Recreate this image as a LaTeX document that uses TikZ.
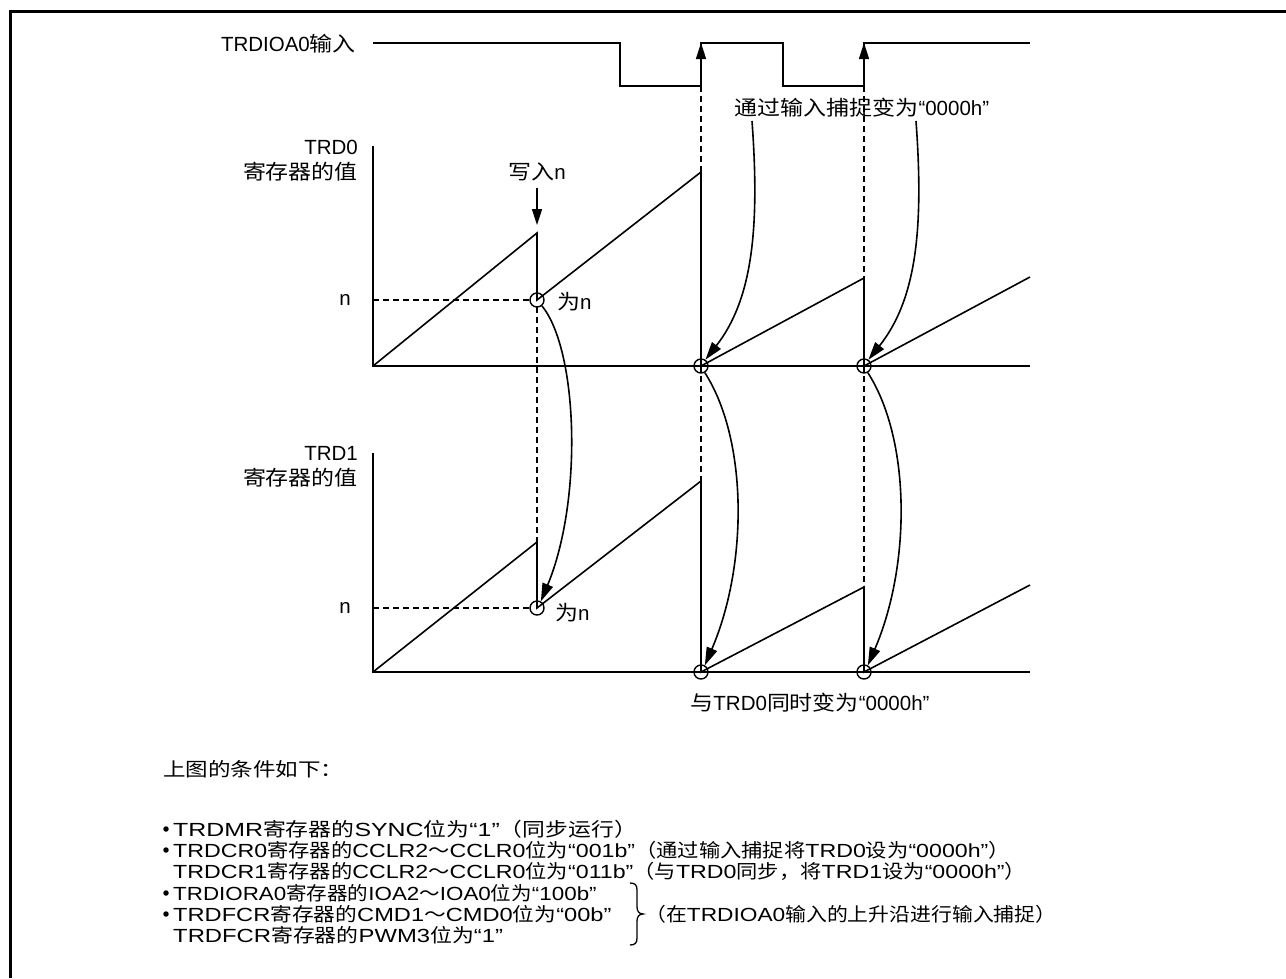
\documentclass[tikz,border=0pt]{standalone}
\usepackage{fontspec}
\usepackage{graphicx}
\setmainfont{Liberation Sans}
\newfontfamily\cjkw[FakeStretch=1.12]{Noto Sans CJK SC}
\newfontfamily\latw[FakeStretch=1.22]{Liberation Sans}
\newcommand\zA[1]{{\cjkw #1}}
\newcommand\sx[2]{\scalebox{#1}[1]{#2}}
\usetikzlibrary{arrows.meta}
\tikzset{
  ln/.style={line width=1.6pt, black},
  dsh/.style={line width=1.4pt, dash pattern=on 6pt off 4pt},
  circ/.style={circle, draw, line width=1.4pt, minimum size=14pt, inner sep=0pt},
  lbl/.style={font=\fontsize{20.5}{25}\selectfont, inner sep=0pt},
  bt/.style={font=\fontsize{19}{21}\selectfont\latw, inner sep=0pt, anchor=west},
  bul/.style={circle, fill, minimum size=5.5pt, inner sep=0pt},
  sarrow/.style={ln, -{Triangle[length=16pt,width=10pt]}},
  carrow/.style={ln, -{Triangle[length=18pt,width=11pt]}},
}
\begin{document}
\begin{tikzpicture}[x=1pt,y=-1pt]
\useasboundingbox (0,0) rectangle (1286,978);
% frame
\draw[line width=3pt] (10.5,978) -- (10.5,11.5) -- (1286,11.5);

% ---- TRDIOA0 input ----
\node[lbl, anchor=east] (tin) at (356,44) {TRDIOA0\zA{输入}};
\draw[ln] (373,43) -- (620,43) -- (620,86) -- (701,86) -- (701,43) -- (783,43) -- (783,86) -- (864,86) -- (864,43) -- (1030,43);
\coordinate (r1b) at (701,86); \coordinate (r1t) at (701,43);
\coordinate (r2b) at (864,86); \coordinate (r2t) at (864,43);
\draw[sarrow] (r1b) -- (r1t);
\draw[sarrow] (r2b) -- (r2t);

% dashed verticals
\draw[dsh] (701,86) -- (701,672);
\draw[dsh] (864,86) -- (864,672);
\draw[dsh] (537,307) -- (537,542);

\node[lbl] (cap) at (862,108) {\zA{通过输入捕捉变为}“0000h”};

% ---- TRD0 ----
\node[lbl, align=right, anchor=east] (l0) at (358,161) {TRD0\\\zA{寄存器的值}};
\draw[ln] (373,146) -- (373,366) -- (1030,366);
\node[lbl] (wn) at (537,172) {\zA{写入}n};
\coordinate (wa) at (537,188); \coordinate (wb) at (537,225);
\draw[sarrow] (wa) -- (wb);
\node[circ] (c0a) at (537,300) {};
\node[circ] (c0b) at (701,366) {};
\node[circ] (c0c) at (864,366) {};
\draw[ln] (373,366) -- (537,233) -- (c0a.center) -- (701,172) -- (c0b.center) -- (864,278) -- (c0c.center) -- (1030,277);
\draw[dsh] (373,300) -- (c0a.west);
\node[lbl] (n0) at (345,300) {n};
\node[lbl, anchor=west] (wei0) at (557,302) {\zA{为}n};

% ---- TRD1 ----
\node[lbl, align=right, anchor=east] (l1) at (358,467) {TRD1\\\zA{寄存器的值}};
\draw[ln] (373,453) -- (373,672) -- (1030,672);
\node[circ] (c1a) at (537,608) {};
\node[circ] (c1b) at (701,672) {};
\node[circ] (c1c) at (864,672) {};
\draw[ln] (373,672) -- (537,542) -- (c1a.center) -- (701,481) -- (c1b.center) -- (864,587) -- (c1c.center) -- (1030,585);
\draw[dsh] (373,608) -- (c1a.west);
\node[lbl] (n1) at (345,608) {n};
\node[lbl, anchor=west] (wei1) at (555,613) {\zA{为}n};
\node[lbl] (sim) at (810,703) {\zA{与}TRD0\zA{同时变为}“0000h”};

% ---- curved arrows ----
\coordinate (ca1) at (752,121);
\coordinate (ca2) at (916,121);
\draw[carrow] (ca1) .. controls (760,230) and (752,300) .. (c0b.55);
\draw[carrow] (ca2) .. controls (924,230) and (916,300) .. (c0c.55);
\draw[carrow] (c0a.-50) .. controls (578,350) and (583,500) .. (c1a.60);
\draw[carrow] (c0b.-60) .. controls (748,440) and (748,565) .. (c1b.60);
\draw[carrow] (c0c.-60) .. controls (911,440) and (911,565) .. (c1c.60);

% ---- conditions ----
\node[bt] (h) at (163,769) {\sx{1.058}{\zA{上图的条件如下：}}};
\node[bul] (b1) at (166,829) {};
\node[bt] (t1) at (173,829) {\sx{1.074}{TRDMR\zA{寄存器的}SYNC\zA{位为}“1”\zA{（同步运行）}}};
\node[bul] (b2) at (166,850) {};
\node[bt] (t2) at (173,850) {TRDCR0\zA{寄存器的}CCLR2\zA{～}CCLR0\zA{位为}“001b”\zA{（通过输入捕捉将}TRD0\zA{设为}“0000h”\zA{）}};
\node[bt] (t3) at (173,871) {TRDCR1\zA{寄存器的}CCLR2\zA{～}CCLR0\zA{位为}“011b”\zA{（与}TRD0\zA{同步，将}TRD1\zA{设为}“0000h”\zA{）}};
\node[bul] (b4) at (166,893) {};
\node[bt] (t4) at (173,893) {\sx{0.965}{TRDIORA0\zA{寄存器的}IOA2\zA{～}IOA0\zA{位为}“100b”}};
\node[bul] (b5) at (166,914) {};
\node[bt] (t5) at (173,914) {\sx{1.02}{TRDFCR\zA{寄存器的}CMD1\zA{～}CMD0\zA{位为}“00b”}};
\node[bt] (t6) at (173,935) {\sx{1.028}{TRDFCR\zA{寄存器的}PWM3\zA{位为}“1”}};
\draw[line width=1.3pt] (630,883) .. controls (635,883) and (637,885) .. (637,890) -- (637,907) .. controls (637,911) and (639,914) .. (643,914) .. controls (639,914) and (637,917) .. (637,921) -- (637,938) .. controls (637,943) and (635,945) .. (630,945);
\node[bt] (t7) at (645,914) {\sx{0.98}{\zA{（在}TRDIOA0\zA{输入的上升沿进行输入捕捉）}}};
\end{tikzpicture}
\end{document}
